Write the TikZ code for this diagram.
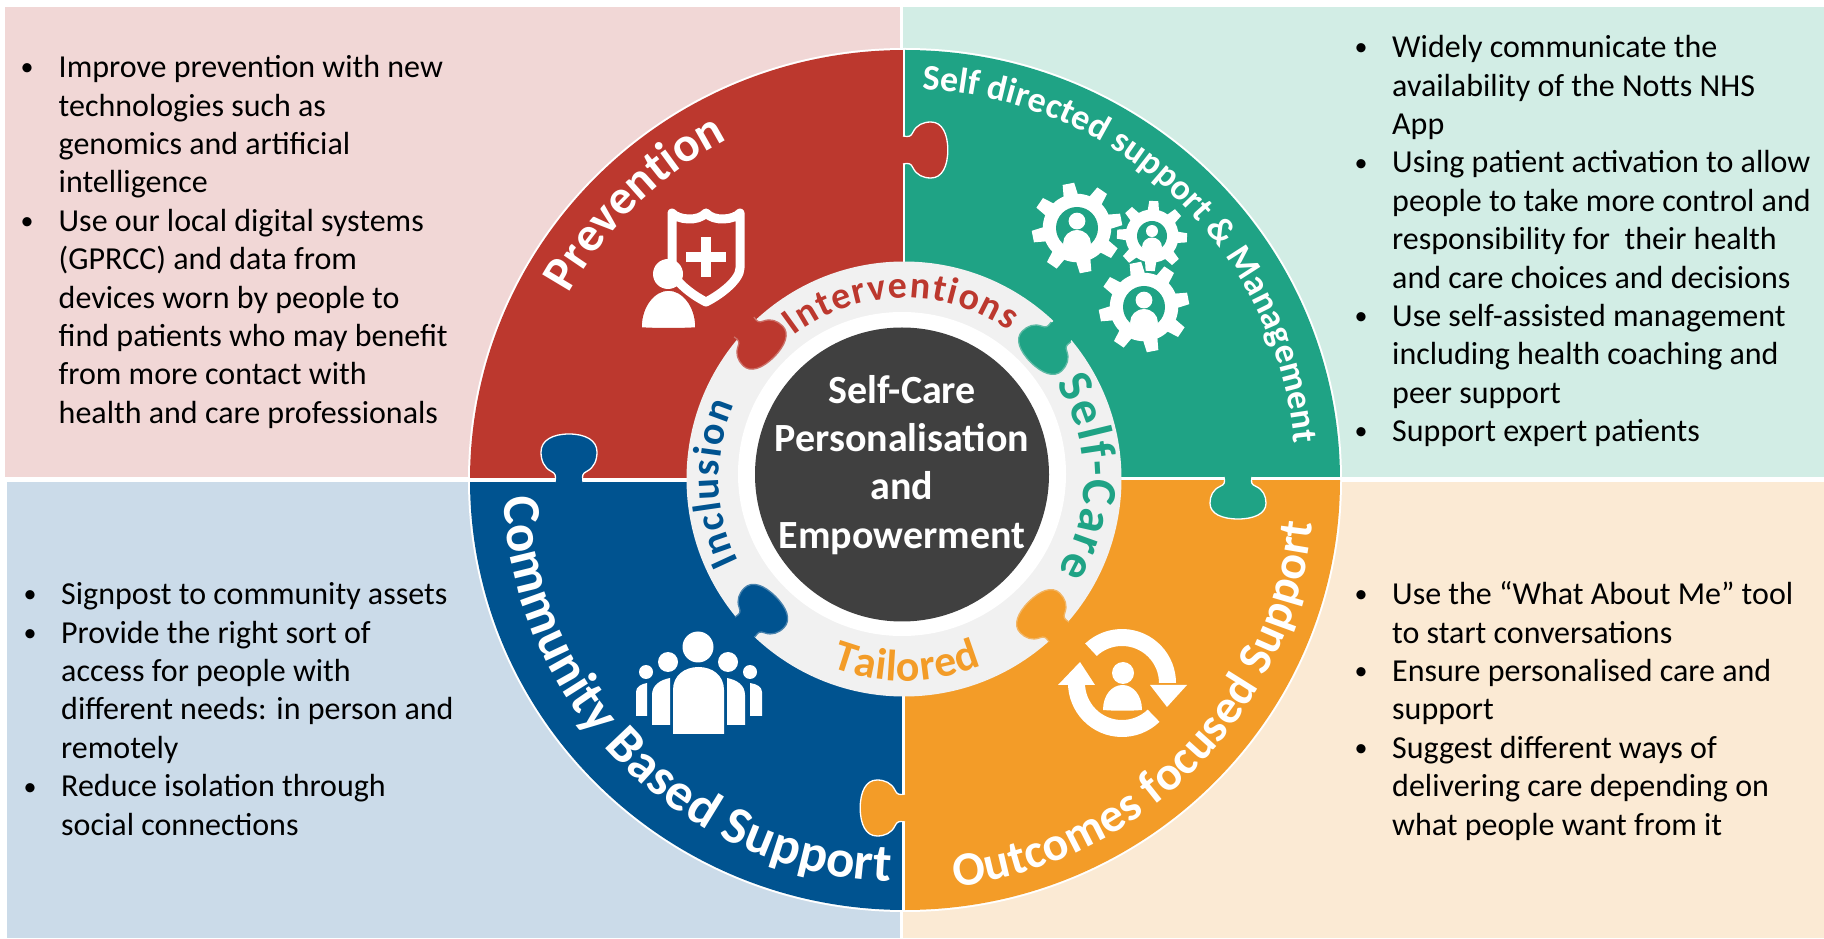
\documentclass[tikz,border=0pt]{standalone}
\usepackage{fontspec}
\setmainfont{Carlito}
\usetikzlibrary{decorations.text,calc}
\definecolor{cRed}{HTML}{BC382E}
\definecolor{cTeal}{HTML}{1FA385}
\definecolor{cBlue}{HTML}{005390}
\definecolor{cOrange}{HTML}{F39C28}
\definecolor{bRed}{HTML}{F1D7D6}
\definecolor{bTeal}{HTML}{D2EDE5}
\definecolor{bBlue}{HTML}{CBDBE9}
\definecolor{bOrange}{HTML}{FBEAD4}
\definecolor{cRing}{HTML}{F1F1F1}
\definecolor{cDark}{HTML}{404040}
\tikzset{
  bodytxt/.style={anchor=north west,inner sep=0pt,align=left,text=black,font=\fontsize{32}{38.4}\selectfont},
  bulletmark/.style={anchor=base,inner sep=0pt,text=black,yshift=1pt,font=\fontsize{26}{26}\selectfont},
  centertxt/.style={anchor=north,inner sep=0pt,align=center,text=white,font=\fontsize{40}{48.3}\selectfont\bfseries}
}
% tab: colour, x, y, direction, depth scale, outline
\newcommand\puzzletab[6]{%
  \begin{scope}[shift={(#2,#3)},rotate=#4,xscale=#5]
    \fill[#1] (-4,-13) rectangle (1,13);
    \path[fill=#1,draw=#6,line width=1.3pt,line join=round]
      (0,-14) .. controls (5,-13) and (7,-13) .. (9,-18)
      .. controls (12,-25) and (18,-28) .. (25,-28)
      .. controls (35,-28) and (40,-16) .. (40,0)
      .. controls (40,16) and (35,28) .. (25,28)
      .. controls (18,28) and (12,25) .. (9,18)
      .. controls (7,13) and (5,13) .. (0,14);
    \fill[#1] (-4,-12.5) rectangle (3,12.5);
  \end{scope}}
% gear: x, y, R, hole, rotation
\newcommand\gearicon[5]{%
  \begin{scope}[shift={(#1,#2)}]
    \begin{scope}[rotate=#5]
      \fill[white] (0,0) circle ({0.76*#3});
      \foreach \a in {0,45,...,315}{
        \fill[white,rotate=\a] ({0.65*#3},{-0.17*#3}) -- ({#3},{-0.13*#3}) -- ({#3},{0.13*#3}) -- ({0.65*#3},{0.17*#3}) -- cycle;}
    \end{scope}
    \fill[cTeal] (0,0) circle (#4);
    \fill[white] (0,{-0.33*#4}) circle ({0.4*#4});
    \begin{scope}
      \clip (0,0) circle ({#4+1});
      \fill[white] (0,{0.72*#4}) ellipse ({0.66*#4} and {0.62*#4});
    \end{scope}
  \end{scope}}
\newcommand\curvedlabel[7]{%
  \path[decorate,decoration={text along path,text align={fit to path},
    text={|\fontsize{#5}{#5}\selectfont\bfseries\color{#6}|#7}}]
    ($(#1)+(#2:#4)$) arc (#2:#3:#4);}
\begin{document}
\begin{tikzpicture}[x=1pt,y=1pt]
\useasboundingbox (0,0) rectangle (1824,938);
\fill[white] (0,0) rectangle (1824,938);
\coordinate (ctrUp) at (905,458);
\coordinate (ringUp) at (904,459);
\begin{scope}[shift={(0,938)},yscale=-1]
  % panels
  \fill[bRed] (5,7) rectangle (900,477);
  \fill[bTeal] (903,7) rectangle (1824,477);
  \fill[bBlue] (7,482) rectangle (900,938);
  \fill[bOrange] (903,482) rectangle (1824,938);
  % wheel quadrants
  \fill[white] (905,480) ellipse (437 and 432);
  \begin{scope}
    \clip (905,480) ellipse (435 and 430);
    \fill[cRed] (450,40) rectangle (903,478);
    \fill[cTeal] (905,40) rectangle (1350,477);
    \fill[cBlue] (450,482) rectangle (902,920);
    \fill[cOrange] (905,480) rectangle (1350,920);
  \end{scope}
  % outer tabs
  \puzzletab{cRed}{903}{150}{0}{1.12}{white}
  \puzzletab{cTeal}{1238}{477}{90}{1.05}{white}
  \puzzletab{cOrange}{905}{808}{180}{1.12}{white}
  \puzzletab{cBlue}{569}{482}{-90}{1.2}{white}
  % ring
  \fill[cRing] (904,479) circle (217.5);
  % inner tabs
  \puzzletab{cRed}{744}{327}{45}{1.06}{cRing!30!cRed}
  \puzzletab{cTeal}{1061}{332}{135}{1.07}{cRing!30!cTeal}
  \puzzletab{cOrange}{1059}{632}{225}{1.07}{cRing!30!cOrange}
  \puzzletab{cBlue}{745}{627}{-45}{1.08}{cRing!30!cBlue}
  \fill[white] (902,474) ellipse (164 and 162);
  \fill[cDark] (902,474.5) circle (147);
  % shield icon
  \path[fill=cRed,draw=white,line width=9pt,line join=round]
    (672,213) .. controls (678,220) and (698,222) .. (706,213)
    .. controls (714,222) and (734,220) .. (740,213)
    -- (740,268) .. controls (740,280) and (720,295) .. (706,302)
    .. controls (692,295) and (672,280) .. (672,268) -- cycle;
  \fill[white] (701,237) rectangle (711,277);
  \fill[white] (686,252) rectangle (726,262);
  \fill[white] (668,274) circle (15);
  \path[fill=white,draw=cRed,line width=1.5pt] (641,328) .. controls (641,305) and (655,290) .. (668.5,290) .. controls (682,290) and (696,305) .. (696,328) .. controls (680,329) and (657,329) .. (641,328) -- cycle;
  % gears
  \gearicon{1077}{228}{45}{21}{-11}
  \gearicon{1152}{236}{35}{15}{3}
  \gearicon{1144}{307}{45}{21}{-11}
  % group icon
  \fill[white] (698,647) circle (15.5);
  \fill[white] (668,662) circle (10);
  \fill[white] (728,662) circle (10);
  \fill[white] (646,672) circle (7);
  \fill[white] (750,672) circle (7);
  \fill[white] (673,734) -- (673,690) .. controls (673,675) and (685,667) .. (698.5,667) .. controls (712,667) and (724,675) .. (724,690) -- (724,734) -- cycle;
  \fill[white] (652,725) -- (652,695) .. controls (652,685) and (660,680) .. (670,678) -- (670,725) -- cycle;
  \fill[white] (745,725) -- (745,695) .. controls (745,685) and (737,680) .. (727,678) -- (727,725) -- cycle;
  \fill[white] (636,716) -- (636,692) .. controls (636,687) and (641,684) .. (647,683) -- (647,716) -- cycle;
  \fill[white] (762,716) -- (762,692) .. controls (762,687) and (757,684) .. (750,683) -- (750,716) -- cycle;
  % cycle icon
  \fill[white] ($(1122,683)+(227:54)$) arc (227:360:54) -- ++(-17,0) arc (360:227:37) -- cycle;
  \fill[white] ($(1122,683)+(46:54)$) arc (46:180:54) -- ++(17,0) arc (180:46:37) -- cycle;
  \fill[white] (1150,685) -- (1187,685) -- (1167,707) -- cycle;
  \fill[white] (1058,685) -- (1095,685) -- (1080,662) -- cycle;
  \fill[white] (1123,673) circle (11);
  \fill[white] (1103,710) .. controls (1103,695) and (1112,685) .. (1122.5,685) .. controls (1133,685) and (1142,695) .. (1142,710) .. controls (1130,711) and (1115,711) .. (1103,710) -- cycle;
  % centre text
  \node[centertxt] (centre) at (902,369.2) {\strut Self-Care\\Personalisation\\and\\Empowerment};
  % body text
  \node[bodytxt] (tl) at (58.5,50.6) {\strut Improve prevention with new\\technologies such as\\genomics and artificial\\intelligence\\Use our local digital systems\\(GPRCC) and data from\\devices worn by people to\\find patients who may benefit\\from more contact with\\health and care professionals};
  \node[bulletmark] (tlb1) at (27,77) {•};
  \node[bulletmark] (tlb2) at (27,230.6) {•};
  \node[bodytxt] (tr) at (1392,30.6) {\strut Widely communicate the\\availability of the Notts NHS\\App\\Using patient activation to allow\\people to take more control and\\responsibility for\ \ their health\\and care choices and decisions\\Use self-assisted management\\including health coaching and\\peer support\\Support expert patients};
  \node[bulletmark] (trb1) at (1361,57) {•};
  \node[bulletmark] (trb2) at (1361,172.2) {•};
  \node[bulletmark] (trb3) at (1361,325.8) {•};
  \node[bulletmark] (trb4) at (1361,441) {•};
  \node[bodytxt] (bl) at (61,577.6) {\strut Signpost to community assets\\Provide the right sort of\\access for people with\\different needs: in person and\\remotely\\Reduce isolation through\\social connections};
  \node[bulletmark] (blb1) at (30,604) {•};
  \node[bulletmark] (blb2) at (30,642.4) {•};
  \node[bulletmark] (blb3) at (30,796) {•};
  \node[bodytxt] (br) at (1392,577.6) {\strut Use the “What About Me” tool\\to start conversations\\Ensure personalised care and\\support\\Suggest different ways of\\delivering care depending on\\what people want from it};
  \node[bulletmark] (brb1) at (1361,604) {•};
  \node[bulletmark] (brb2) at (1361,680.8) {•};
  \node[bulletmark] (brb3) at (1361,757.6) {•};
\end{scope}
% curved labels (y up)
\curvedlabel{ctrUp}{151}{118}{384}{49}{white}{Prevention}
\curvedlabel{ctrUp}{87.5}{5.4}{391}{36}{white}{Self directed support {\&} Management}
\curvedlabel{ctrUp}{182.5}{267.9}{402}{53}{white}{Community Based Support}
\curvedlabel{ctrUp}{277}{354}{410}{48}{white}{Outcomes focused Support}
\curvedlabel{ringUp}{127.5}{54.7}{181}{38}{cRed}{Interventions}
\curvedlabel{ringUp}{32}{-31}{180}{49}{cTeal}{Self-Care}
\curvedlabel{ringUp}{206.4}{156.4}{185}{40}{cBlue}{Inclusion}
\curvedlabel{ringUp}{249}{292.5}{202}{44}{cOrange}{Tailored}
\end{tikzpicture}
\end{document}
